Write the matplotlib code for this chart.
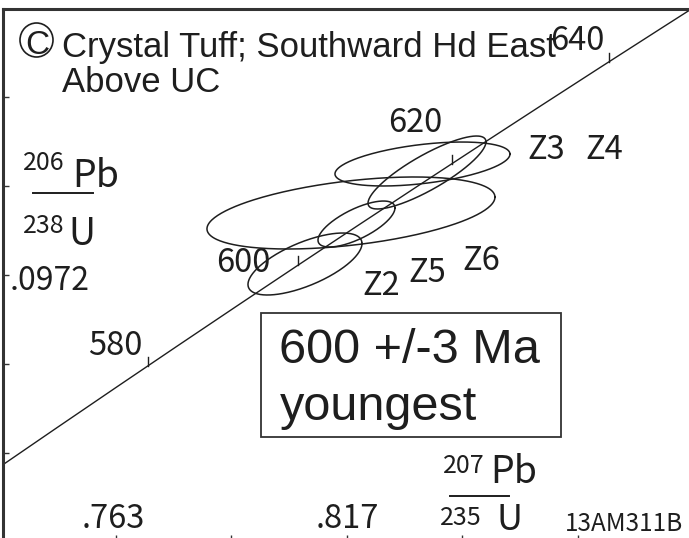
import numpy as np
import matplotlib
matplotlib.use('Agg')
import matplotlib.pyplot as plt
from matplotlib.patches import Ellipse, Rectangle

# decay constants (1/yr)
L238 = 1.55125e-10
L235 = 9.8485e-10

# concordia age marks (Ma)
ages = [580, 600, 620, 640]

# zircon analyses: 207Pb/235U, 206Pb/238U, half widths, error correlation
names = ['Z2', 'Z5', 'Z6', 'Z3', 'Z4']
x75 = [0.80719, 0.81923, 0.81794, 0.83572, 0.83466]
y68 = [0.097577, 0.098923, 0.099294, 0.100657, 0.100943]
sx75 = [0.01333, 0.00900, 0.03367, 0.01379, 0.02046]
sy68 = [0.001043, 0.000774, 0.001212, 0.001228, 0.00074]
rho = [0.66, 0.70, 0.44, 0.84, 0.45]

xticks = [.763, .790, .817, .844, .871]
yticks = [.0912, .0942, .0972, .1002, .1032]

INK = '#1e1e1e'
NUM = ['Noto Sans CJK KR', 'DejaVu Sans']
SANS = ['Liberation Sans', 'DejaVu Sans']

W, H = 689, 538
fig = plt.figure(figsize=(W / 100, H / 100), dpi=100)


def fp(x, y):
    # pixel position (from top-left) -> figure fraction
    return x / W, 1 - y / H


# axes box: left spine at x=3px, top at y=9px, right/bottom just off the picture
ax = fig.add_axes([3 / W, -3 / H, 697 / W, 532 / H])
ax.set_xlim(0.73658, 0.89955)
ax.set_ylim(0.088254, 0.10616)
for s in ['right', 'bottom']:
    ax.spines[s].set_visible(False)
for s in ['left', 'top']:
    ax.spines[s].set_linewidth(2.2)
    ax.spines[s].set_color('#333333')
ax.set_xticks(xticks)
ax.set_yticks(yticks)
ax.tick_params(direction='in', length=4.5, width=1, color='#333333',
               labelbottom=False, labelleft=False, bottom=True, left=True, top=False)

# concordia curve
t = np.linspace(540, 670, 400) * 1e6
ax.plot(np.expm1(L235 * t), np.expm1(L238 * t), color=INK, lw=1.0)

# age ticks on the concordia
tk = np.array(ages) * 1e6
cx = np.expm1(L235 * tk)
cy = np.expm1(L238 * tk)
for xx, yy in zip(cx, cy):
    ax.plot([xx, xx], [yy, yy + 0.0003], color=INK, lw=1.0)

# error ellipses
th = np.linspace(0, 2 * np.pi, 300)
for x0, y0, sx, sy, r in zip(x75, y68, sx75, sy68, rho):
    ex = x0 + sx * np.cos(th)
    ey = y0 + sy * (r * np.cos(th) + np.sqrt(1 - r * r) * np.sin(th))
    ax.plot(ex, ey, color=INK, lw=1.1)

# age labels
age_pos = {580: (142, 355), 600: (270, 272), 620: (442, 132), 640: (605, 50)}
for a in ages:
    fig.text(*fp(*age_pos[a]), str(a), ha='right', va='baseline',
             family=NUM, fontsize=23.5, color=INK)

# grain labels
name_pos = {'Z2': (362, 295), 'Z5': (408, 282), 'Z6': (462, 270),
            'Z3': (527, 159), 'Z4': (585, 159)}
for n in names:
    fig.text(*fp(*name_pos[n]), n, ha='left', va='baseline',
             family=NUM, fontsize=23.5, color=INK)

# tick value labels
fig.text(*fp(10, 290), '.0972', ha='left', va='baseline', family=NUM, fontsize=23, color=INK)
fig.text(*fp(113, 528), '.763', ha='center', va='baseline', family=NUM, fontsize=23.5, color=INK)
fig.text(*fp(347, 528), '.817', ha='center', va='baseline', family=NUM, fontsize=23.5, color=INK)
fig.text(*fp(565, 531), '13AM311B', ha='left', va='baseline', family=NUM, fontsize=17.5, color=INK)

# axis ratio labels
fig.text(*fp(23, 170), '206', ha='left', va='baseline', family=NUM, fontsize=18, color=INK)
fig.text(*fp(72, 187), 'Pb', ha='left', va='baseline', family=NUM, fontsize=27, color=INK)
fig.add_artist(plt.Line2D([33 / W, 93 / W], [1 - 193 / H] * 2, color=INK, lw=1.4))
fig.text(*fp(23, 233), '238', ha='left', va='baseline', family=NUM, fontsize=18, color=INK)
fig.text(*fp(68, 245), 'U', ha='left', va='baseline', family=NUM, fontsize=27, color=INK)

fig.text(*fp(443, 473), '207', ha='left', va='baseline', family=NUM, fontsize=18, color=INK)
fig.text(*fp(490, 483), 'Pb', ha='left', va='baseline', family=NUM, fontsize=27, color=INK)
fig.add_artist(plt.Line2D([450 / W, 509 / W], [1 - 496 / H] * 2, color=INK, lw=1.4))
fig.text(*fp(440, 525), '235', ha='left', va='baseline', family=NUM, fontsize=18, color=INK)
fig.text(*fp(496, 530), 'U', ha='left', va='baseline', family=NUM, fontsize=26, color=INK)

# title
fig.add_artist(Ellipse(fp(36.5, 40), 33 / W, 34 / H, transform=fig.transFigure,
                       fill=False, lw=1.2, color=INK))
fig.text(*fp(37, 54), 'C', ha='center', va='baseline', family=SANS, fontsize=24, color=INK)
fig.text(*fp(62, 57), 'Crystal Tuff; Southward Hd East', ha='left', va='baseline',
         family=SANS, fontsize=25, color=INK)
fig.text(*fp(62, 92), 'Above UC', ha='left', va='baseline', family=SANS, fontsize=25, color=INK)

# result box
fig.add_artist(Rectangle(fp(261, 437), 300 / W, 124 / H, transform=fig.transFigure,
                         fill=False, lw=1.3, edgecolor='#333333'))
fig.text(*fp(279, 363), '600 +/-3 Ma', ha='left', va='baseline', family=SANS, fontsize=35, color=INK)
fig.text(*fp(280, 420), 'youngest', ha='left', va='baseline', family=SANS, fontsize=35, color=INK)

fig.savefig('out.png', dpi=100)
